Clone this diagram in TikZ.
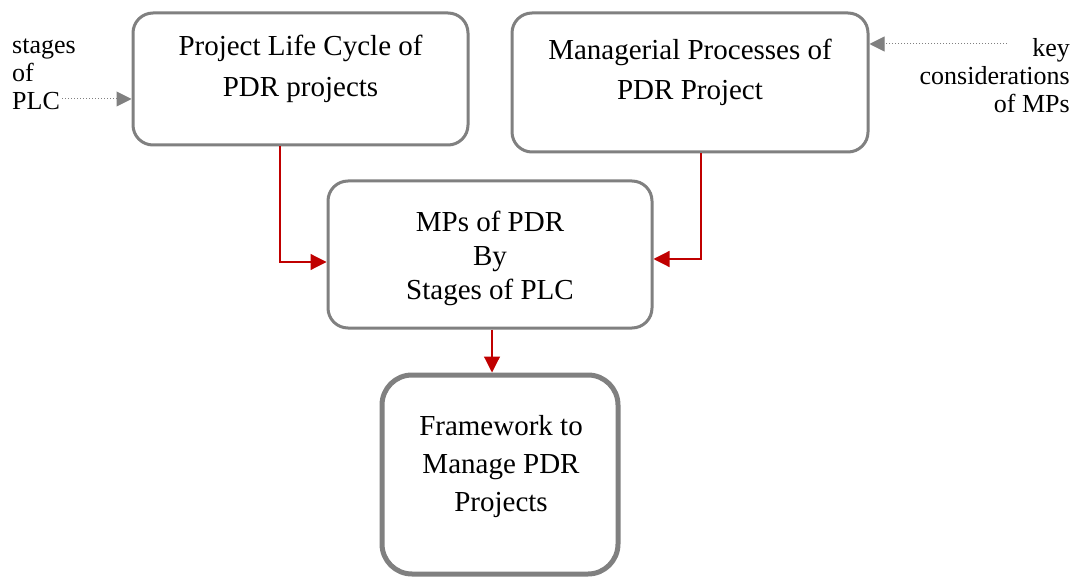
\documentclass[tikz,border=0pt]{standalone}
\usepackage{fontspec}
\setmainfont{Liberation Serif}
\usetikzlibrary{arrows.meta,calc}
\definecolor{boxgray}{HTML}{808080}
\definecolor{flowred}{HTML}{C00000}
\begin{document}
\begin{tikzpicture}[x=1pt,y=-1pt,
  box/.style={draw=boxgray,line width=3pt,rounded corners=20pt,fill=white,inner sep=0pt},
  bigbox/.style={box,line width=5pt,rounded corners=30pt},
  boxtext/.style={align=center,inner sep=0pt,font=\fontsize{29}{#1}\selectfont},
  sidetext/.style={inner sep=0pt,font=\fontsize{26}{28}\selectfont},
  flow/.style={draw=flowred,line width=1.2pt,-{Triangle[length=16pt,width=16pt]}},
  hint/.style={draw=boxgray,line width=1pt,dotted,-{Triangle[length=15pt,width=15pt]}}]
  \useasboundingbox (0,0) rectangle (1076,577);

  % boxes
  \node[box,minimum width=335pt,minimum height=132pt] (plcbox) at (300.5,79) {};
  \node[box,minimum width=356pt,minimum height=139pt] (mpbox) at (690,82.5) {};
  \node[box,minimum width=324pt,minimum height=147pt] (stagebox) at (490,254.5) {};
  \node[bigbox,minimum width=236pt,minimum height=199pt] (fwbox) at (500,474.5) {};

  % box texts
  \node[boxtext=41pt] (plctext) at (300.5,69) {Project Life Cycle of\\PDR projects};
  \node[boxtext=40pt] (mptext) at (690,72) {Managerial Processes of\\PDR Project};
  \node[boxtext=34pt] (stagetext) at (490,258) {MPs of PDR\\By\\Stages of PLC};
  \node[boxtext=38pt] (fwtext) at (501,467) {Framework to\\Manage PDR\\Projects};

  % side notes
  \node[sidetext,align=left,anchor=west] (ltext) at (12,74) {stages\\of\\PLC};
  \node[sidetext,align=right,anchor=east] (rtext) at (1070,76) {key\\considerations\\of MPs};

  % dotted hints into the top boxes
  \coordinate (lstart) at (62,99);
  \coordinate (rstart) at (1007,44);
  \draw[hint] (lstart) -- (plcbox.west |- lstart);
  \draw[hint] (rstart) -- (mpbox.east |- rstart);

  % red flow connectors
  \draw[flow] ($(plcbox.south)+(-20.5,0)$) |- ($(stagebox.west)+(0,7.5)$);
  \draw[flow] ($(mpbox.south)+(11,0)$) |- ($(stagebox.east)+(0,4.5)$);
  \coordinate (mid) at ($(stagebox.south)+(2,0)$);
  \draw[flow] (mid) -- (mid |- fwbox.north);
\end{tikzpicture}
\end{document}
